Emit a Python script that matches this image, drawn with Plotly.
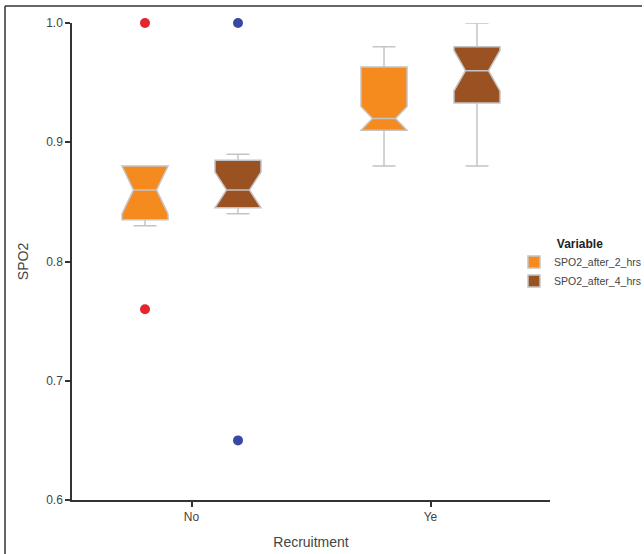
import plotly.graph_objects as go

categories = ["No", "Ye"]
series_names = ["SPO2_after_2_hrs", "SPO2_after_4_hrs"]

# precomputed box statistics
q1_2h = [0.835, 0.91]
median_2h = [0.86, 0.92]
q3_2h = [0.88, 0.963]
lower_2h = [0.83, 0.88]
upper_2h = [0.88, 0.98]
notch_2h = [0.02, 0.01]

q1_4h = [0.845, 0.933]
median_4h = [0.86, 0.96]
q3_4h = [0.885, 0.98]
lower_4h = [0.84, 0.88]
upper_4h = [0.89, 1.0]
notch_4h = [0.015, 0.017]

# outliers
out_x_2h = ["No", "No"]
out_y_2h = [1.0, 0.76]
out_x_4h = ["No", "No"]
out_y_4h = [1.0, 0.65]

fill_colors = ["#F58A1F", "#9A5223"]
out_colors = ["#E3262B", "#3748A5"]
edge = "#C4C4C4"
font_family = "Liberation Sans, Arial, sans-serif"

W, H = 644, 554
ML, MR, MT, MB = 72, 94, 23, 54
PW, PH = W - ML - MR, H - MT - MB

fig = go.Figure()

stats = [
    (q1_2h, median_2h, q3_2h, lower_2h, upper_2h, notch_2h),
    (q1_4h, median_4h, q3_4h, lower_4h, upper_4h, notch_4h),
]
outs = [(out_x_2h, out_y_2h), (out_x_4h, out_y_4h)]

for i, (q1, med, q3, lf, uf, ns) in enumerate(stats):
    fig.add_trace(go.Box(
        name=series_names[i],
        x=categories,
        q1=q1, median=med, q3=q3, lowerfence=lf, upperfence=uf,
        notched=True, notchspan=ns, notchwidth=0.25,
        boxpoints=False,
        fillcolor=fill_colors[i],
        line=dict(color=edge, width=1.5),
        whiskerwidth=0.5,
        offsetgroup=str(i),
        hoverinfo="skip",
    ))

for i, (ox, oy) in enumerate(outs):
    fig.add_trace(go.Scatter(
        x=ox, y=oy, mode="markers",
        marker=dict(color=out_colors[i], size=10, line=dict(width=0)),
        offsetgroup=str(i),
        cliponaxis=False,
        showlegend=False,
        hoverinfo="skip",
    ))

def px_x(p):
    return (p - ML) / PW

def px_y(p):
    return (H - MB - p) / PH

fig.update_layout(
    width=W, height=H,
    margin=dict(l=ML, r=MR, t=MT, b=MB, autoexpand=False),
    paper_bgcolor="white", plot_bgcolor="white",
    boxmode="group", boxgap=0.222, boxgroupgap=0.505,
    scattermode="group", scattergap=0.222,
    font=dict(family=font_family, color="#444444", size=12),
    legend=dict(
        title=dict(text="<b>Variable</b>", font=dict(size=12, color="#222222"), side="top center"),
        xref="container", yref="container",
        x=514 / W, xanchor="left", y=1 - 264 / H, yanchor="middle",
        font=dict(size=10.5, color="#444444"),
        tracegroupgap=0,
        bgcolor="rgba(0,0,0,0)",
    ),
    xaxis=dict(
        type="category",
        categoryorder="array", categoryarray=categories,
        range=[-0.5, 1.5],
        showline=True, linecolor="#333333", linewidth=1.5,
        ticks="outside", ticklen=5, tickwidth=1.5, tickcolor="#333333",
        showgrid=False, zeroline=False,
        tickfont=dict(size=12, color="#444444"),
        title=dict(text="Recruitment", font=dict(size=14, color="#444444"), standoff=14),
    ),
    yaxis=dict(
        range=[0.6, 1.0],
        tickvals=[0.6, 0.7, 0.8, 0.9, 1.0],
        tickformat=".1f",
        showline=True, linecolor="#333333", linewidth=1.5,
        ticks="outside", ticklen=5, tickwidth=1.5, tickcolor="#333333",
        showgrid=False, zeroline=False,
        tickfont=dict(size=12, color="#444444"),
        title=dict(text="SPO2", font=dict(size=14, color="#444444"), standoff=14),
    ),
    shapes=[
        dict(type="line", xref="paper", yref="paper",
             x0=px_x(5), x1=px_x(642), y0=px_y(6), y1=px_y(6),
             line=dict(color="#333333", width=1.5)),
        dict(type="line", xref="paper", yref="paper",
             x0=px_x(5), x1=px_x(5), y0=px_y(554), y1=px_y(6),
             line=dict(color="#333333", width=1.5)),
    ],
)

fig.write_html("out.html")
